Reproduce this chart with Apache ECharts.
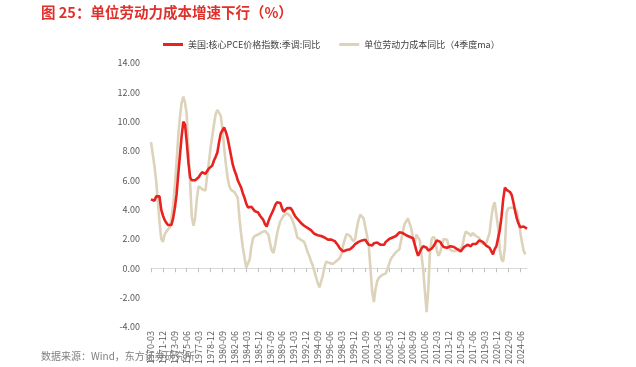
<!DOCTYPE html>
<html><head><meta charset="utf-8">
<script src="https://cdn.jsdelivr.net/npm/echarts@6/dist/echarts.min.js"></script>
<style>html,body{margin:0;padding:0;background:#fff;}#c{width:636px;height:367px;}</style>
</head><body><div id="c"></div>
<script>
// Quarterly categories 1970-03 .. 2025-06
const startYear = 1970, endYear = 2025, endQuarter = 2;
const categories = [];
for (let y = startYear; y <= endYear; y++) {
  for (let q = 1; q <= 4; q++) {
    if (y === endYear && q > endQuarter) break;
    categories.push(y + '-' + String(q * 3).padStart(2, '0'));
  }
}
const seriesNames = ['美国:核心PCE价格指数:季调:同比', '单位劳动力成本同比（4季度ma）'];
// 美国核心PCE同比（%），每年四个季度
const corePCE = [
  4.7, 4.65, 4.6, 4.9,   5.0, 4.9, 4.0, 3.6,   3.3, 3.1, 2.95, 2.9,   2.95, 3.4, 4.1, 5.0,
  6.4, 7.7, 9.0, 10.0,   9.8, 8.6, 7.2, 6.2,   6.0, 6.0, 6.0, 6.0,   6.2, 6.4, 6.55, 6.45,
  6.45, 6.5, 6.8, 6.85,  7.0, 7.35, 7.6, 7.9,  8.6, 9.2, 9.3, 9.6,   9.3, 8.9, 8.3, 7.7,
  7.1, 6.7, 6.4, 6.0,    5.75, 5.5, 5.1, 4.8,  4.4, 4.15, 4.1, 4.2,  4.1, 3.9, 3.95, 3.8,
  3.6, 3.45, 3.3, 3.0,   2.85, 3.2, 3.5, 3.75, 4.0, 4.3, 4.5, 4.6,   4.45, 4.1, 3.85, 3.95,
  4.1, 4.2, 4.1, 3.95,   3.7, 3.5, 3.4, 3.25,  3.1, 3.0, 2.9, 2.8,   2.75, 2.7, 2.6, 2.5,
  2.35, 2.3, 2.25, 2.2,  2.2, 2.15, 2.1, 2.05, 1.95, 1.95, 1.95, 1.9, 1.85, 1.75, 1.55, 1.35,
  1.25, 1.15, 1.2, 1.25, 1.3, 1.3, 1.4, 1.5,   1.65, 1.75, 1.8, 1.85, 1.9, 1.95, 1.95, 1.75,
  1.6, 1.5, 1.55, 1.7,   1.7, 1.75, 1.8, 1.6,  1.55, 1.6, 1.8, 1.9,   2.0, 2.05, 2.1, 2.15,
  2.2, 2.3, 2.45, 2.55,  2.4, 2.3, 2.25, 2.2,  2.15, 2.1, 2.05, 1.95, 1.2, 0.85, 0.75, 1.35,
  1.5, 1.45, 1.4, 1.2,   1.15, 1.35, 1.5, 1.7, 1.9, 1.95, 1.8, 1.6,   1.45, 1.4, 1.4, 1.5,
  1.5, 1.5, 1.45, 1.4,   1.3, 1.2, 1.15, 1.3,  1.45, 1.55, 1.6, 1.55, 1.5, 1.65, 1.75, 1.65,
  1.75, 1.9, 1.95, 1.8,  1.7, 1.55, 1.5, 1.4,  1.3, 0.95, 1.3, 1.5,   1.5, 2.6, 3.5, 4.7,
  5.5, 5.35, 5.3, 5.2,   5.0, 4.5, 3.9, 3.4,   3.05, 2.8, 2.75, 2.85, 2.75, 2.7
];
// 单位劳动力成本同比（4季度移动平均，%）
const unitLaborCost = [
  8.6, 7.8, 7.0, 6.0,    4.6, 3.2, 2.0, 1.8,   2.3, 2.5, 2.6, 2.8,   3.4, 4.3, 5.6, 7.2,
  9.0, 10.3, 11.3, 11.7, 11.3, 10.5, 8.0, 5.8, 3.5, 2.9, 3.5, 4.8,   5.6, 5.6, 5.4, 5.3,
  5.3, 6.3, 7.2, 8.2,    9.0, 9.8, 10.5, 10.8, 10.9, 10.4, 9.5, 8.2, 7.1, 6.2, 5.6, 5.35,
  5.25, 5.2, 5.0, 4.8,   3.4, 2.3, 1.4, 0.7,   0.05, 0.0, 0.6, 1.5,  2.05, 2.2, 2.2, 2.3,
  2.35, 2.45, 2.5, 2.55, 2.5, 2.3, 1.7, 1.2,   1.05, 1.6, 2.3, 2.8,  3.2, 3.4, 3.6, 3.7,
  3.75, 3.7, 3.55, 3.3,  3.0, 2.6, 2.1, 2.0,   1.95, 1.9, 1.8, 1.5,  1.1, 0.85, 0.5, 0.2,
  -0.2, -0.6, -1.0, -1.3, -0.9, -0.5, 0.1, 0.45, 0.45, 0.35, 0.3, 0.3, 0.35, 0.5, 0.6, 0.7,
  1.0, 1.6, 2.0, 2.35,   2.35, 2.2, 2.0, 1.85, 2.0, 2.75, 3.3, 3.65, 3.75, 3.4, 2.8, 2.2,
  1.5, 0.0, -1.6, -2.3,  -1.4, -0.85, -0.65, -0.55, -0.45, -0.4, -0.35, -0.05, 0.3, 0.65, 0.8, 0.85,
  1.1, 1.0, 1.3, 1.9,    2.5, 3.0, 3.2, 3.4,   3.35, 2.7, 2.0, 1.7,  2.3, 2.2, 1.9, 0.9,
  -0.1, -1.6, -3.0, -1.4, 1.2, 2.0, 2.15, 2.0, 1.2, 0.85, 1.1, 1.6,  2.0, 2.05, 1.95, 1.5,
  1.25, 1.15, 1.15, 1.2, 1.25, 1.3, 1.35, 1.5, 2.1, 2.5, 2.55, 2.35, 2.2, 2.4, 2.3, 2.2,
  2.3, 2.05, 1.8, 1.65,  1.6, 1.7, 1.8, 2.4,   3.4, 4.2, 4.5, 4.4,   2.8, 1.3, 0.6, 0.45,
  1.4, 3.8, 4.1, 4.2,    4.15, 4.1, 4.05, 3.9, 3.3, 2.5, 1.8, 1.2,  0.95
];
const yTicks = { min: -4, max: 14, interval: 2 };

const chart = echarts.init(document.getElementById('c'), null, { renderer: 'canvas' });
const FONT = '"Noto Sans CJK SC", "Noto Sans", sans-serif';
chart.setOption({
  animation: false,
  backgroundColor: '#ffffff',
  textStyle: { fontFamily: FONT },
  title: [
    { text: '图 25：单位劳动力成本增速下行（%）', left: 36, top: 0,
      textStyle: { color: '#e0302b', fontSize: 14.5, fontWeight: 'bold', fontFamily: FONT } },
    { text: '数据来源：Wind，东方证券研究所', left: 36, top: 346,
      textStyle: { color: '#7f7f7f', fontSize: 10, fontWeight: 'normal', fontFamily: FONT } }
  ],
  legend: {
    top: 35, left: 158, itemWidth: 20, itemHeight: 3, itemGap: 19,
    icon: 'rect',
    textStyle: { color: '#404040', fontSize: 9, fontFamily: FONT },
    data: seriesNames
  },
  grid: { left: 151, right: 109, top: 63, bottom: 36, containLabel: false },
  xAxis: {
    type: 'category', data: categories, boundaryGap: false,
    axisLine: { onZero: true, lineStyle: { color: '#d9d9d9', width: 1 } },
    axisTick: { show: true, interval: 6, length: 4, lineStyle: { color: '#bfbfbf' } },
    axisLabel: { interval: 6, rotate: 90, color: '#595959', fontSize: 9, margin: 4 },
    splitLine: { show: false }
  },
  yAxis: {
    type: 'value', min: yTicks.min, max: yTicks.max, interval: yTicks.interval,
    axisLine: { show: false }, axisTick: { show: false }, splitLine: { show: false },
    axisLabel: { color: '#595959', fontSize: 9, margin: 11, formatter: v => v.toFixed(2) }
  },
  series: [
    { name: seriesNames[0], type: 'line', data: corePCE, showSymbol: false, symbol: 'none',
      lineStyle: { color: '#e8231f', width: 2.6 }, itemStyle: { color: '#e8231f' }, z: 3 },
    { name: seriesNames[1], type: 'line', data: unitLaborCost, showSymbol: false, symbol: 'none',
      lineStyle: { color: '#ddd3bb', width: 2.6 }, itemStyle: { color: '#ddd3bb' }, z: 2 }
  ]
});
</script></body></html>
